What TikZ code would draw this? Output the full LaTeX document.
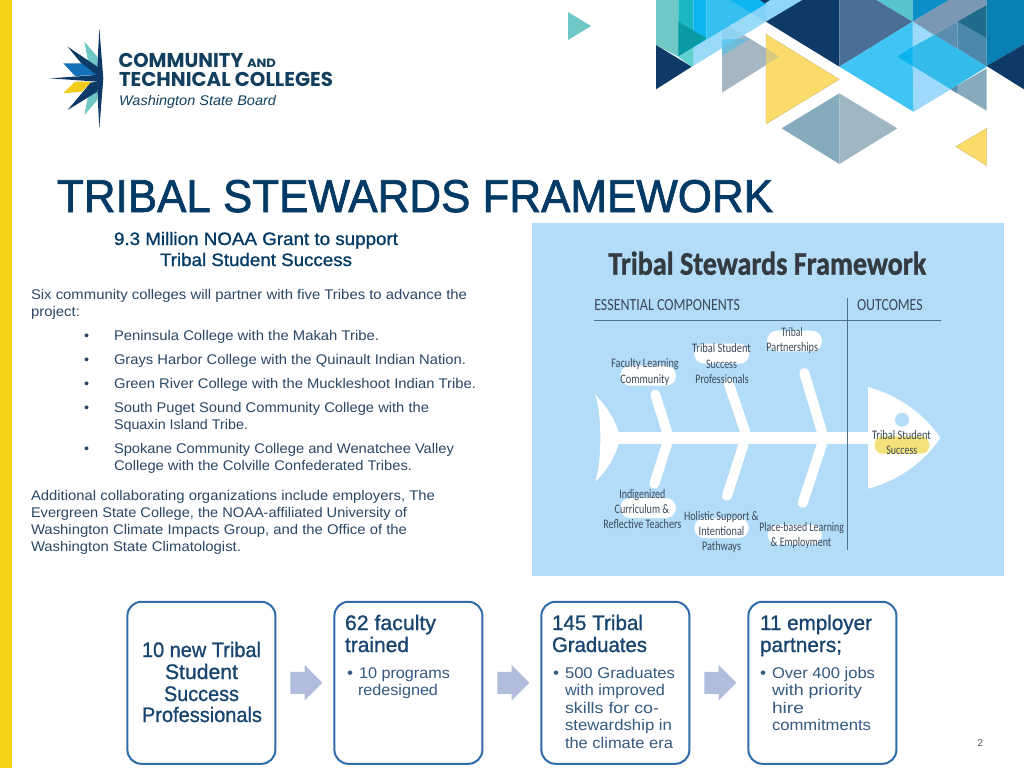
\documentclass[tikz,border=0pt]{standalone}
\usepackage{fontspec}
\usepackage{graphicx}
\usetikzlibrary{shapes.arrows}
\setmainfont{Liberation Sans}
\newfontfamily\headfont[FakeBold=1.0]{Liberation Sans}
\newfontfamily\titlefont[FakeBold=1.6]{Liberation Sans}
\newfontfamily\fishfont{Carlito}
\newfontfamily\fishbold[FakeBold=1.2]{Carlito Bold}
\newfontfamily\logofont{Poppins}
\definecolor{barY}{HTML}{F8D017}
\definecolor{navy}{HTML}{0D3A66}
\definecolor{titleC}{HTML}{023A66}
\definecolor{bodyC}{HTML}{2A4765}
\definecolor{boxB}{HTML}{2F6CA8}
\definecolor{boxH}{HTML}{17456F}
\definecolor{boxT}{HTML}{35597F}
\definecolor{arrowC}{HTML}{B2BCDC}
\definecolor{fishBg}{HTML}{B3DCF8}
\definecolor{fishT}{HTML}{3B4A5A}
\definecolor{fishD}{HTML}{333A40}
\definecolor{fishL}{HTML}{4F6F8A}
\definecolor{tealA}{HTML}{6FC8C5}
\definecolor{tealB}{HTML}{1BB8C4}
\definecolor{tealC}{HTML}{0B9BA5}
\definecolor{cyanA}{HTML}{35C0F0}
\definecolor{cyanB}{HTML}{3FC4F3}
\definecolor{cyanC}{HTML}{0DB5EE}
\definecolor{cyanD}{HTML}{33BBEA}
\definecolor{paleB}{HTML}{8FD6F8}
\definecolor{paleC}{HTML}{9DD9FA}
\definecolor{slateB}{HTML}{4A6F96}
\definecolor{slateC}{HTML}{7C97B4}
\definecolor{slateD}{HTML}{5A8DB0}
\definecolor{slateE}{HTML}{4C88AB}
\definecolor{deepT}{HTML}{1F6C8C}
\definecolor{blueA}{HTML}{0B8FC6}
\definecolor{blueB}{HTML}{0A7FB2}
\definecolor{grayT}{HTML}{A6B7C3}
\definecolor{tanO}{HTML}{D6CB80}
\definecolor{yelT}{HTML}{FBDC6A}
\definecolor{yelE}{HTML}{C9B26A}
\definecolor{dia}{HTML}{86ABBD}
\definecolor{dib}{HTML}{9FB6C3}
\definecolor{logoC}{HTML}{123F5E}
\definecolor{logoB}{HTML}{1172B9}
\definecolor{logoY}{HTML}{F2CC1A}
\definecolor{blobY}{HTML}{F3E27A}
\tikzset{
  lbl/.style={anchor=base west,inner sep=0pt,outer sep=0pt},
  kpibox/.style={draw=boxB,line width=2pt,rounded corners=14pt,fill=white,minimum width=148pt,minimum height=162pt,inner sep=0pt},
  blockarrow/.style={single arrow,fill=arrowC,draw=none,inner sep=0pt,text height=21.6pt,text depth=0pt,text width=0pt,minimum height=32pt,minimum width=35pt,single arrow head extend=6.7pt,anchor=center,xshift=-4pt},
  bone/.style={white,line width=10pt,line cap=round},
  blob/.style={fill=white,rounded corners=10pt},
  yedge/.style={fill=yelT,draw=yelE,line width=0.3pt}
}
% name, left x, baseline y, width, size, colour, text
\newcommand{\tx}[7]{\node[lbl,text=#6] (#1) at (#2,#3) {\fontsize{#5}{#5}\selectfont\resizebox{#4pt}{\height}{#7}};}
\begin{document}
\begin{tikzpicture}[x=1pt,y=-1pt]
\useasboundingbox (0,0) rectangle (1024,768);
\fill[white] (0,0) rectangle (1024,768);
\fill[barY] (0,0) rectangle (12,768);

% decorative triangles, in 3x crop coordinates
\begin{scope}[shift={(550,0)},xscale=1/3,yscale=1/3]
\fill[tealA] (54,36) -- (123,78) -- (54,120) -- cycle;
\fill[grayT] (516,65) -- (688,170) -- (516,278) -- cycle;
\fill[tealA] (318,0) -- (385,0) -- (385,170) -- (318,135) -- cycle;
\fill[tealB] (385,0) -- (430,0) -- (430,143) -- (385,170) -- cycle;
\fill[cyanC] (430,0) -- (470,0) -- (470,119) -- (430,143) -- cycle;
\fill[cyanA] (470,0) -- (648,0) -- (648,12) -- (470,119) -- cycle;
\fill[cyanC] (540,0) -- (648,0) -- (648,65) -- cycle;
\fill[tealC] (385,65) -- (470,115) -- (385,170) -- cycle;
\fill[navy] (318,135) -- (425,200) -- (318,268) -- cycle;
\fill[paleB,opacity=.9] (385,170) -- (648,12) -- (648,65) -- (425,200) -- cycle;
\fill[tealA!85!cyan] (385,170) -- (430,143) -- (430,197) -- (425,200) -- cycle;
\fill[cyanA,opacity=.5] (516,118) -- (600,116) -- (516,167) -- cycle;
\fill[paleB] (648,0) -- (757,0) -- (648,65) -- cycle;
\fill[navy] (630,0) -- (660,0) -- (645,10) -- cycle;
\fill[navy] (648,65) -- (757,0) -- (868,0) -- (868,200) -- cycle;
\fill[slateB] (868,0) -- (980,0) -- (1088,65) -- (868,200) -- cycle;
\fill[tealA!75!cyanC] (980,0) -- (1088,0) -- (1088,65) -- cycle;
\fill[blueA] (1088,0) -- (1197,0) -- (1088,65) -- cycle;
\fill[slateC] (1088,65) -- (1197,0) -- (1310,0) -- (1310,15) -- (1222,65) -- (1152,105) -- cycle;
\fill[slateD] (1152,105) -- (1222,65) -- (1222,146) -- cycle;
\fill[slateE] (1222,65) -- (1310,115) -- (1310,200) -- (1222,146) -- cycle;
\fill[deepT] (1222,65) -- (1310,15) -- (1310,115) -- cycle;
\fill[cyanB] (868,200) -- (1088,65) -- (1310,200) -- (1090,335) -- cycle;
\fill[cyanD] (1088,140) -- (1152,105) -- (1310,200) -- (1202,268) -- (1088,198) -- cycle;
\fill[cyanC] (1042,170) -- (1088,140) -- (1088,198) -- cycle;
\fill[paleC] (1088,65) -- (1152,105) -- (1088,140) -- cycle;
\fill[paleC] (1088,198) -- (1202,268) -- (1090,335) -- cycle;
\fill[dia] (1202,268) -- (1310,205) -- (1310,332) -- cycle;
\fill[slateE!80!dia] (1202,268) -- (1222,256) -- (1222,280) -- cycle;
\fill[blueB] (1310,0) -- (1422,0) -- (1422,133) -- (1310,198) -- cycle;
\fill[navy] (1310,198) -- (1422,133) -- (1422,268) -- cycle;
\fill[yedge] (648,103) -- (868,238) -- (648,372) -- cycle;
\fill[tanO] (648,145) -- (688,170) -- (648,195) -- cycle;
\fill[dia] (695,385) -- (868,280) -- (868,492) -- cycle;
\fill[dib] (868,280) -- (1042,385) -- (868,492) -- cycle;
\fill[yedge] (1217,440) -- (1310,385) -- (1310,497) -- cycle;
\end{scope}

% logo star
\begin{scope}[xscale=1/3,yscale=1/3]
\fill[tealA] (253,125) -- (292,170) -- (292,225) -- (268,205) -- cycle;
\fill[tealA] (253,345) -- (292,300) -- (292,245) -- (272,248) -- cycle;
\fill[navy] (203,140) -- (292,200) -- (292,235) -- (270,222) -- cycle;
\fill[logoB] (190,190) -- (245,190) -- (290,225) -- (225,228) -- cycle;
\fill[logoY] (190,280) -- (225,245) -- (275,245) -- (245,275) -- cycle;
\fill[navy] (150,235) -- (292,225) -- (292,245) -- cycle;
\fill[navy] (203,330) -- (272,248) -- (292,245) -- (292,275) -- cycle;
\fill[navy] (298,85) -- (310,235) -- (298,385) -- (290,235) -- cycle;
\end{scope}
\tx{logoA}{118.5}{67}{125}{20}{logoC}{\logofont\bfseries COMMUNITY}
\tx{logoAnd}{247}{67}{29}{12}{logoC}{\logofont\bfseries AND}
\tx{logoT}{119}{86}{214}{20}{logoC}{\logofont\bfseries TECHNICAL COLLEGES}
\tx{logoW}{119}{105}{157}{14}{logoC}{\itshape Washington State Board}

% heading
\tx{mainT}{57}{212}{716}{46}{titleC}{\titlefont TRIBAL STEWARDS FRAMEWORK}
\tx{subA}{114}{245}{284}{18}{titleC}{\headfont 9.3 Million NOAA Grant to support}
\tx{subB}{160}{266}{192}{18}{titleC}{\headfont Tribal Student Success}

% body text
\tx{pA}{31}{299}{436}{14}{bodyC}{Six community colleges will partner with five Tribes to advance the}
\tx{pB}{31}{316}{49}{14}{bodyC}{project:}
\tx{bA}{84}{340}{5}{14}{bodyC}{•}
\tx{lA}{114}{340}{265}{14}{bodyC}{Peninsula College with the Makah Tribe.}
\tx{bB}{84}{364}{5}{14}{bodyC}{•}
\tx{lB}{114}{364}{352}{14}{bodyC}{Grays Harbor College with the Quinault Indian Nation.}
\tx{bC}{84}{388}{5}{14}{bodyC}{•}
\tx{lC}{114}{388}{362}{14}{bodyC}{Green River College with the Muckleshoot Indian Tribe.}
\tx{bD}{84}{412}{5}{14}{bodyC}{•}
\tx{lD}{114}{412}{315}{14}{bodyC}{South Puget Sound Community College with the}
\tx{lDb}{114}{429}{134}{14}{bodyC}{Squaxin Island Tribe.}
\tx{bE}{84}{453}{5}{14}{bodyC}{•}
\tx{lE}{114}{453}{340}{14}{bodyC}{Spokane Community College and Wenatchee Valley}
\tx{lEb}{114}{470}{298}{14}{bodyC}{College with the Colville Confederated Tribes.}
\tx{qA}{31}{500}{404}{14}{bodyC}{Additional collaborating organizations include employers, The}
\tx{qB}{31}{517}{376}{14}{bodyC}{Evergreen State College, the NOAA-affiliated University of}
\tx{qC}{31}{534}{376}{14}{bodyC}{Washington Climate Impacts Group, and the Office of the}
\tx{qD}{31}{551}{210}{14}{bodyC}{Washington State Climatologist.}

% fishbone panel
\fill[fishBg] (532,223) rectangle (1004,576);
\fill[white] (595.3,394.7) .. controls (608,408) and (615,420) .. (618.7,432.3) -- (618.7,444) .. controls (615,456) and (608,470) .. (595.3,481.3) .. controls (602,462) and (602,414) .. (595.3,394.7) -- cycle;
\fill[white] (618,432.3) rectangle (870,444);
\fill[white] (868,387) .. controls (900,396) and (925,415) .. (940.3,438) .. controls (925,461) and (900,480) .. (868,488.7) -- cycle;
\fill[fishBg] (902,419.7) circle (7);
\draw[bone] (655.3,394.7) -- (667,432);
\draw[bone] (728.7,383) -- (745.3,432.3);
\draw[bone] (804.3,373) -- (822,432);
\draw[bone] (667,444) -- (654.3,483.7);
\draw[bone] (743.7,444) -- (727,495.7);
\draw[bone] (822,444) -- (802.7,503);
\fill[blob] (620.3,365.7) rectangle (676,385.7);
\fill[blob] (694.3,343.7) rectangle (749.3,363.7);
\fill[blob] (767,330.7) rectangle (822,351.3);
\fill[blob] (620.3,498) rectangle (676,518);
\fill[blob] (694.3,518) rectangle (748.7,538);
\fill[blob] (767.7,524.7) rectangle (822,544.7);
\fill[blobY,rounded corners=8pt] (874.7,436.3) rectangle (929.3,453.7);
\draw[fishL,line width=0.7pt] (594,320.3) -- (941.3,320.3);
\draw[fishL,line width=0.7pt] (847.3,298) -- (847.3,549.7);
\tx{fT}{608.3}{274.7}{318}{33}{fishD}{\fishbold Tribal Stewards Framework}
\tx{fE}{594.3}{310.7}{145.7}{17}{fishT}{\fishfont ESSENTIAL COMPONENTS}
\tx{fO}{857}{310.7}{65.7}{17}{fishT}{\fishfont OUTCOMES}
\tx{fa}{611.3}{367.7}{67.4}{13}{fishT}{\fishfont Faculty Learning}
\tx{fb}{620.3}{383}{49}{13}{fishT}{\fishfont Community}
\tx{fc}{692}{352.3}{59}{13}{fishT}{\fishfont Tribal Student}
\tx{fd}{706}{368}{31}{13}{fishT}{\fishfont Success}
\tx{fe}{695.3}{383}{53.4}{13}{fishT}{\fishfont Professionals}
\tx{ff}{781.3}{336}{21.4}{13}{fishT}{\fishfont Tribal}
\tx{fg}{766.3}{351.7}{51.7}{13}{fishT}{\fishfont Partnerships}
\tx{fh}{872}{439}{59}{13}{fishT}{\fishfont Tribal Student}
\tx{fi}{886.3}{454}{31}{13}{fishT}{\fishfont Success}
\tx{fj}{619.3}{498}{46}{13}{fishT}{\fishfont Indigenized}
\tx{fk}{614.7}{513}{54.6}{13}{fishT}{\fishfont Curriculum \&}
\tx{fl}{603.3}{528.7}{78}{13}{fishT}{\fishfont Reflective Teachers}
\tx{fm}{684}{520}{74.7}{13}{fishT}{\fishfont Holistic Support \&}
\tx{fn}{698.7}{535}{45.6}{13}{fishT}{\fishfont Intentional}
\tx{fo}{702}{550}{39}{13}{fishT}{\fishfont Pathways}
\tx{fp}{759.3}{531}{84.7}{13}{fishT}{\fishfont Place-based Learning}
\tx{fq}{770.7}{546}{60.6}{13}{fishT}{\fishfont \& Employment}

% KPI boxes
\node[kpibox] (k1) at (201.4,682.8) {};
\node[kpibox] (k2) at (408.4,682.8) {};
\node[kpibox] (k3) at (615.4,682.8) {};
\node[kpibox] (k4) at (822.4,682.8) {};
\path (k1) -- node[blockarrow] (a1) {} (k2);
\path (k2) -- node[blockarrow] (a2) {} (k3);
\path (k3) -- node[blockarrow] (a3) {} (k4);

\tx{kaa}{142}{657}{119}{21}{boxH}{\headfont 10 new Tribal}
\tx{kab}{165}{679}{73}{21}{boxH}{\headfont Student}
\tx{kac}{164}{701}{75}{21}{boxH}{\headfont Success}
\tx{kad}{142}{722}{120}{21}{boxH}{\headfont Professionals}

\tx{kba}{345}{630}{91}{21}{boxH}{\headfont 62 faculty}
\tx{kbb}{345}{652}{64}{21}{boxH}{\headfont trained}
\tx{kbc}{347}{678}{6}{16}{boxT}{•}
\tx{kbd}{359}{678}{91}{15.5}{boxT}{10 programs}
\tx{kbe}{358}{695}{80}{15.5}{boxT}{redesigned}

\tx{kca}{552}{630}{91}{21}{boxH}{\headfont 145 Tribal}
\tx{kcb}{552}{652}{95}{21}{boxH}{\headfont Graduates}
\tx{kcc}{553}{678}{6}{16}{boxT}{•}
\tx{kcd}{565}{678}{110}{15.5}{boxT}{500 Graduates}
\tx{kce}{565}{695}{100}{15.5}{boxT}{with improved}
\tx{kcf}{565}{713}{94}{15.5}{boxT}{skills for co-}
\tx{kcg}{565}{730}{107}{15.5}{boxT}{stewardship in}
\tx{kch}{565}{748}{108}{15.5}{boxT}{the climate era}

\tx{kda}{760}{630}{112}{21}{boxH}{\headfont 11 employer}
\tx{kdb}{760}{652}{82}{21}{boxH}{\headfont partners;}
\tx{kdc}{760}{678}{6}{16}{boxT}{•}
\tx{kdd}{772}{678}{103}{15.5}{boxT}{Over 400 jobs}
\tx{kde}{772}{695}{90}{15.5}{boxT}{with priority}
\tx{kdf}{772}{713}{32}{15.5}{boxT}{hire}
\tx{kdg}{772}{730}{99}{15.5}{boxT}{commitments}

\tx{pageN}{977.5}{746}{5.5}{10}{black!65}{2}
\end{tikzpicture}
\end{document}
